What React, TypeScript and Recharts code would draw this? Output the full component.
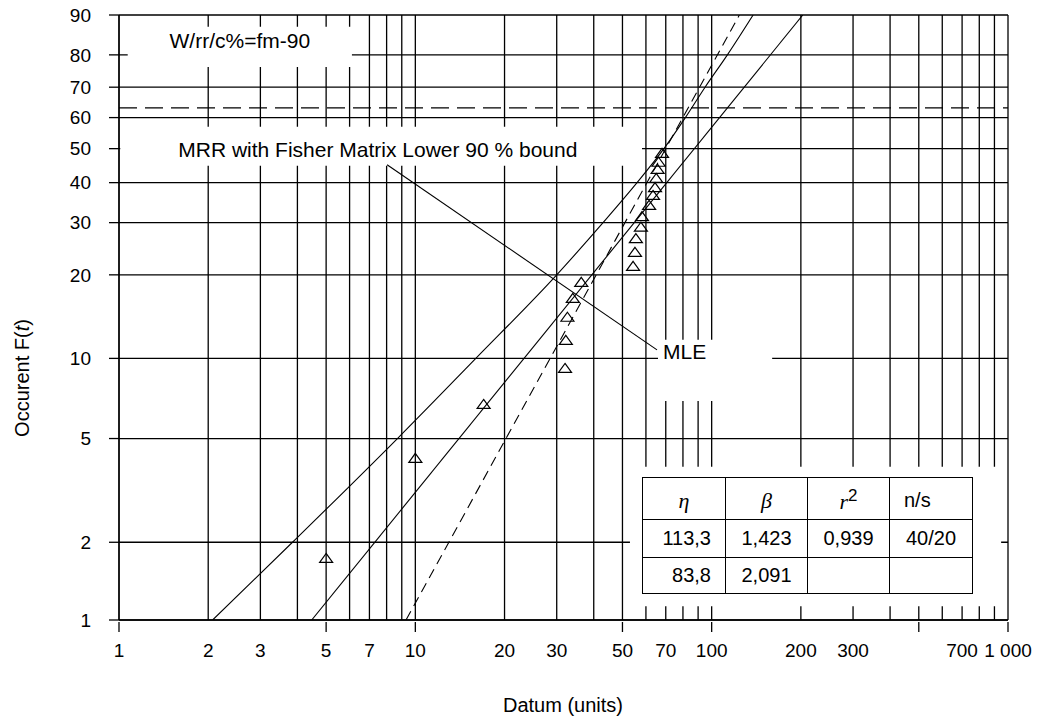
import {
  ComposedChart,
  Line,
  Scatter,
  XAxis,
  YAxis,
  CartesianGrid,
  ReferenceArea,
  ReferenceLine,
} from 'recharts'

const FONT = '"Liberation Sans", Arial, Helvetica, sans-serif'
const SERIF = '"Liberation Serif", "Times New Roman", serif'

// failure times (units) and their median ranks (%)
const failTimes = [5, 10, 17, 32, 32.2, 32.6, 34, 36.3, 54.3, 55.1, 55.5, 57.7, 58.2, 61.5, 63.4, 64.4, 65, 65.7, 66.2, 68]
const failRanks = [1.74, 4.22, 6.76, 9.22, 11.7, 14.2, 16.6, 18.9, 21.5, 24.0, 26.7, 29.1, 31.5, 34.2, 36.7, 38.8, 41.3, 43.9, 46.0, 48.7]

// MRR fit line (eta 113,3 / beta 1,423)
const mrrTimes = [4.47, 203]
const mrrProbs = [1, 90]
// MLE fit line (eta 83,8 / beta 2,091), dashed
const mleTimes = [9.3, 124]
const mleProbs = [1, 90]
// Fisher matrix lower 90 % bound of the MRR line
const boundTimes = [2.07, 3.85, 8.7, 16, 30, 43, 56, 69, 81.5, 95, 113, 138]
const boundProbs = [1, 2, 5, 10, 20, 30, 40, 50, 60, 70, 80, 90]
// leader line from the label to "MLE"
const leaderTimes = [8.03, 65.4]
const leaderProbs = [45.1, 10.75]

const yTicks = [1, 2, 5, 10, 20, 30, 40, 50, 60, 70, 80, 90]
const xTicks = [1, 2, 3, 5, 7, 10, 20, 30, 50, 70, 100, 200, 300, 500, 700, 1000]
const xLabelled = [1, 2, 3, 5, 7, 10, 20, 30, 50, 70, 100, 200, 300, 700, 1000]
const xMarks = [1, 5, 10, 50, 100, 500, 1000]
const xGrid = [
  1, 2, 3, 4, 5, 6, 7, 8, 9,
  10, 20, 30, 40, 50, 60, 70, 80, 90,
  100, 200, 300, 400, 500, 600, 700, 800, 900, 1000,
]

const tableHead = ['η', 'β', 'r2', 'n/s']
const tableRow1 = ['113,3', '1,423', '0,939', '40/20']
const tableRow2 = ['83,8', '2,091', '', '']

// Weibull probability scale
const weib = (p: number) => Math.log(-Math.log(1 - p / 100))
const unweib = (w: number) => 100 * (1 - Math.exp(-Math.exp(w)))

const toData = (ts: number[], ps: number[]) => ts.map((t, i) => ({ t, w: weib(ps[i]) }))

const failData = toData(failTimes, failRanks)
const mrrData = toData(mrrTimes, mrrProbs)
const mleData = toData(mleTimes, mleProbs)
const boundData = toData(boundTimes, boundProbs)
const leaderData = toData(leaderTimes, leaderProbs)

const Triangle = (props: any) => {
  const { cx, cy } = props
  return (
    <path
      d={`M${cx},${cy - 4.5}L${cx + 6.5},${cy + 4.5}L${cx - 6.5},${cy + 4.5}Z`}
      fill="none"
      stroke="#000"
      strokeWidth={1.2}
    />
  )
}

const XTick = (props: any) => {
  const { x, y, payload } = props
  const v = payload.value
  const text = xLabelled.includes(v) ? (v === 1000 ? '1 000' : String(v)) : ''
  return (
    <g>
      {xMarks.includes(v) && <line x1={x} x2={x} y1={y} y2={y + 10} stroke="#000" strokeWidth={1.3} />}
      <text x={x} y={y + 35} textAnchor="middle" fontSize={19} fontFamily={FONT} fill="#000">
        {text}
      </text>
    </g>
  )
}

const BoxText = ({ viewBox, text, dx, dy, anchor }: any) => (
  <text
    x={viewBox.x + (anchor === 'middle' ? viewBox.width / 2 : dx)}
    y={viewBox.y + dy}
    textAnchor={anchor}
    fontSize={21}
    fontFamily={FONT}
    fill="#000"
  >
    {text}
  </text>
)

const cell = (w: number, align: string, extra: any = {}) => ({
  width: w,
  border: '1.5px solid #000',
  textAlign: align as any,
  padding: '0 14px',
  boxSizing: 'border-box' as any,
  ...extra,
})

function ParamTable() {
  const widths = [83, 82, 82, 83]
  return (
    <table
      style={{
        position: 'absolute',
        left: 642,
        top: 477,
        borderCollapse: 'collapse',
        fontFamily: FONT,
        fontSize: 20,
        color: '#000',
        background: '#fff',
      }}
    >
      <tbody>
        <tr style={{ height: 42 }}>
          {tableHead.map((h, i) => (
            <td
              key={h}
              style={cell(widths[i], i === 3 ? 'left' : 'center', {
                fontFamily: i === 3 ? FONT : SERIF,
                fontStyle: i === 3 ? 'normal' : 'italic',
                fontSize: i === 3 ? 20 : 22,
                paddingTop: 4,
              })}
            >
              {h === 'r2' ? (
                <span>
                  r<sup style={{ fontStyle: 'normal', fontFamily: FONT, fontSize: 17 }}>2</sup>
                </span>
              ) : (
                h
              )}
            </td>
          ))}
        </tr>
        <tr style={{ height: 38 }}>
          {tableRow1.map((v, i) => (
            <td key={i} style={cell(widths[i], i === 0 ? 'right' : 'center')}>
              {v}
            </td>
          ))}
        </tr>
        <tr style={{ height: 36 }}>
          {tableRow2.map((v, i) => (
            <td key={i} style={cell(widths[i], i === 0 ? 'right' : 'center')}>
              {v}
            </td>
          ))}
        </tr>
      </tbody>
    </table>
  )
}

export default function App() {
  return (
    <div style={{ position: 'absolute', left: 0, top: 0, width: 1058, height: 724, background: '#fff' }}>
      <ComposedChart width={1058} height={724} margin={{ top: 15, right: 50, bottom: 0, left: 0 }}>
        <CartesianGrid
          stroke="#000"
          strokeWidth={1.3}
          horizontalValues={yTicks.map(weib)}
          verticalValues={xGrid}
        />
        <XAxis
          dataKey="t"
          type="number"
          scale="log"
          domain={[1, 1000]}
          allowDataOverflow
          ticks={xTicks}
          interval={0}
          height={104}
          tickSize={0}
          tickLine={false}
          tick={(p: any) => <XTick {...p} />}
          axisLine={{ stroke: '#000', strokeWidth: 1.3 }}
        />
        <YAxis
          dataKey="w"
          type="number"
          domain={[weib(1), weib(90)]}
          allowDataOverflow
          ticks={yTicks.map(weib)}
          interval={0}
          width={119}
          tickSize={10}
          tickMargin={18}
          tickFormatter={(w: number) => String(Math.round(unweib(w)))}
          tick={{ fill: '#000', fontSize: 19, fontFamily: FONT }}
          tickLine={{ stroke: '#000', strokeWidth: 1.3 }}
          axisLine={{ stroke: '#000', strokeWidth: 1.3 }}
        />
        {/* white boxes behind the annotations */}
        <ReferenceArea
          x1={1.07}
          x2={6.11}
          y1={weib(76.4)}
          y2={weib(87.4)}
          fill="#fff"
          fillOpacity={1}
          stroke="none"
          label={(p: any) => <BoxText {...p} text="W/rr/c%=fm-90" anchor="middle" dy={21} />}
        />
        <ReferenceArea
          x1={1.01}
          x2={58.2}
          y1={weib(44.8)}
          y2={weib(57)}
          fill="#fff"
          fillOpacity={1}
          stroke="none"
          label={(p: any) => (
            <BoxText {...p} text="MRR with Fisher Matrix Lower 90 % bound" anchor="start" dx={58} dy={30} />
          )}
        />
        <ReferenceArea
          x1={65.9}
          x2={160}
          y1={weib(6.94)}
          y2={weib(11.7)}
          fill="#fff"
          fillOpacity={1}
          stroke="none"
          label={(p: any) => <BoxText {...p} text="MLE" anchor="start" dx={5} dy={19} />}
        />
        <ReferenceArea x1={53} x2={948} y1={weib(1.13)} y2={weib(3.9)} fill="#fff" fillOpacity={1} stroke="none" />
        <ReferenceLine y={weib(63.2)} stroke="#000" strokeWidth={1.4} strokeDasharray="18 8" />
        <Line data={leaderData} dataKey="w" type="linear" stroke="#000" strokeWidth={1.1} dot={false} isAnimationActive={false} />
        <Line data={boundData} dataKey="w" type="monotone" stroke="#000" strokeWidth={1.1} dot={false} isAnimationActive={false} />
        <Line data={mrrData} dataKey="w" type="linear" stroke="#000" strokeWidth={1.1} dot={false} isAnimationActive={false} />
        <Line
          data={mleData}
          dataKey="w"
          type="linear"
          stroke="#000"
          strokeWidth={1.1}
          strokeDasharray="10 6"
          dot={false}
          isAnimationActive={false}
        />
        <Scatter data={failData} dataKey="w" shape={Triangle} isAnimationActive={false} />
      </ComposedChart>
      <ParamTable />
      <svg style={{ position: 'absolute', left: 0, top: 0 }} width={1058} height={724} pointerEvents="none">
        <text
          transform="translate(29, 378) rotate(-90)"
          textAnchor="middle"
          fontSize={20}
          fontFamily={FONT}
          fill="#000"
        >
          Occurent F(<tspan fontStyle="italic">t</tspan>)
        </text>
        <text x={563} y={712} textAnchor="middle" fontSize={20} fontFamily={FONT} fill="#000">
          Datum (units)
        </text>
      </svg>
    </div>
  )
}
